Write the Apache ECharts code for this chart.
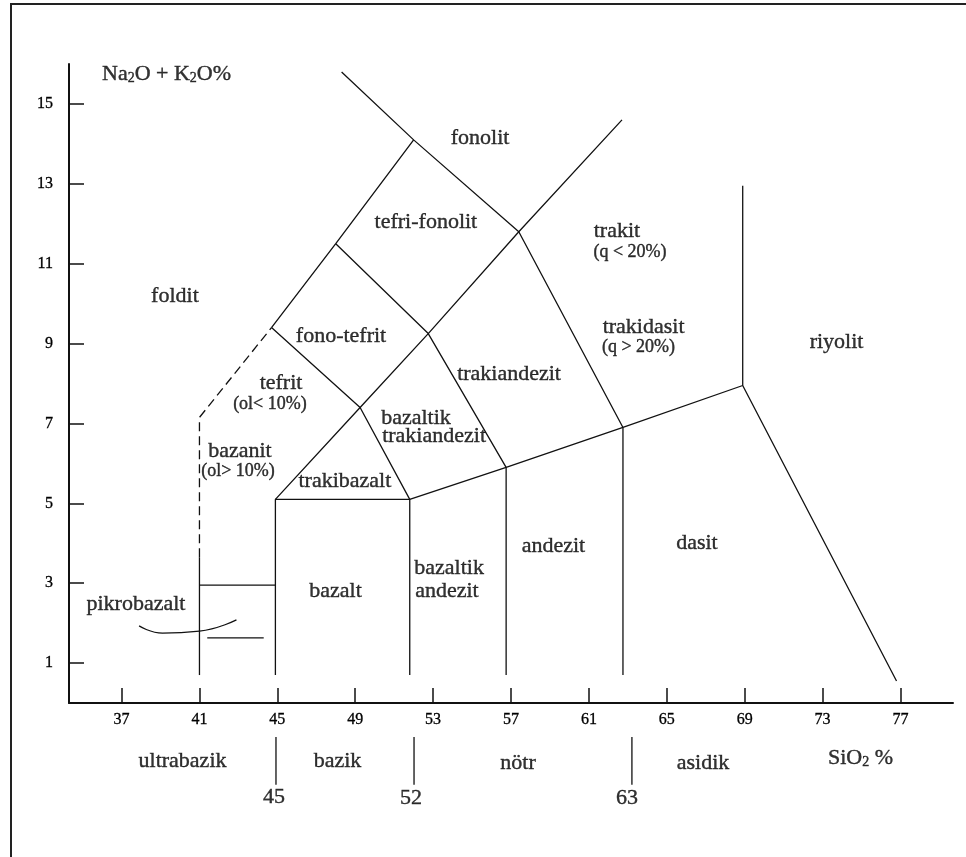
<!DOCTYPE html>
<html><head><meta charset="utf-8">
<script src="https://cdn.jsdelivr.net/npm/echarts@6/dist/echarts.min.js"></script>
<style>html,body{margin:0;padding:0;background:#fff}#c{width:966px;height:857px}</style>
</head><body><div id="c"></div>
<script>
// ---- data (SiO2 %, Na2O+K2O %) ----
const xTicks = [37, 41, 45, 49, 53, 57, 61, 65, 69, 73, 77];
const yTicks = [1, 3, 5, 7, 9, 11, 13, 15];

const solidLines = [
  [[48.3, 15.8], [52.0, 14.1], [57.4, 11.8], [62.75, 6.9]],
  [[44.7, 9.4], [48.0, 11.5], [52.0, 14.1]],
  [[44.9, 5.1], [49.25, 7.4], [52.75, 9.25], [57.4, 11.8], [62.7, 14.6]],
  [[44.7, 9.4], [49.25, 7.4], [51.8, 5.1]],
  [[48.0, 11.5], [52.75, 9.25], [56.75, 5.9]],
  [[51.8, 5.1], [56.75, 5.9], [62.75, 6.9], [68.9, 7.95], [76.8, 0.55]],
  [[68.9, 7.95], [68.9, 12.95]],
  [[41.0, 0.7], [41.0, 3.65]],
  [[44.9, 0.7], [44.9, 5.1], [51.8, 5.1], [51.8, 0.7]],
  [[56.75, 0.7], [56.75, 5.9]],
  [[62.75, 0.7], [62.75, 6.9]],
  [[41.0, 2.95], [44.9, 2.95]],
  [[41.4, 1.63], [44.3, 1.63]]
];
const dashedLines = [
  [[41.0, 3.65], [41.0, 7.15], [44.7, 9.4]]
];
const picroCurve = [[37.9, 1.93], [39.1, 1.75], [41.0, 1.80], [42.9, 2.08]];
const classDividers = [
  [[44.93, -0.85], [44.93, -2.05]],
  [[52.02, -0.85], [52.02, -2.05]],
  [[63.21, -0.85], [63.21, -2.05]]
];

const rockNames = [
  ['foldit', 39.74, 10.22], ['fonolit', 55.41, 14.17], ['tefri-fonolit', 52.63, 12.07],
  ['fono-tefrit', 48.27, 9.21], ['tefrit', 45.19, 8.04], ['bazanit', 43.08, 6.33],
  ['trakibazalt', 48.47, 5.58], ['bazaltik', 52.12, 7.16], ['trakiandezit', 53.05, 6.71],
  ['trakiandezit', 56.90, 8.26], ['bazalt', 47.99, 2.83], ['pikrobazalt', 37.74, 2.50],
  ['bazaltik', 53.82, 3.41], ['andezit', 53.71, 2.83], ['andezit', 59.18, 3.96],
  ['dasit', 66.55, 4.03], ['trakit', 62.44, 11.84], ['trakidasit', 63.81, 9.44],
  ['riyolit', 73.72, 9.06]
];
const rockNotes = [
  ['(ol< 10%)', 44.62, 7.51], ['(ol> 10%)', 42.98, 5.83],
  ['(q < 20%)', 63.11, 11.32], ['(q > 20%)', 63.55, 8.94]
];
const classNames = [
  ['ultrabazik', 40.13, -1.43], ['bazik', 48.09, -1.43], ['nötr', 57.36, -1.48], ['asidik', 66.86, -1.48]
];
const classLimits = [['45', 44.83, -2.33], ['52', 51.86, -2.35], ['63', 62.96, -2.35]];
const axisTitles = [['Na₂O + K₂O%', 39.31, 15.77], ['SiO₂ %', 74.95, -1.35]];

// ---- rendering ----
const FONT = '"Liberation Serif", "Times New Roman", serif';
const INK = '#000';

function toRich(t) {
  return '{n|' + t.replace(/₂/g, '}{s|2}{n|') + '}';
}
function lineSeries(pts, dash, smooth) {
  return {
    type: 'line', data: pts, symbol: 'none', clip: false, silent: true, animation: false,
    smooth: smooth || false,
    lineStyle: { color: '#111', width: 1.3, type: dash ? [9, 5] : 'solid' }
  };
}
function textSeries(items, size) {
  const base = { fontFamily: FONT, color: INK, textBorderColor: INK, textBorderWidth: 0.4, verticalAlign: 'bottom' };
  return {
    type: 'scatter', symbolSize: 1, itemStyle: { color: 'transparent' }, clip: false,
    silent: true, animation: false,
    data: items.map(d => ({ name: d[0], value: [d[1], d[2]] })),
    label: {
      show: true, position: 'inside', align: 'center', verticalAlign: 'middle',
      formatter: p => toRich(p.name),
      rich: {
        n: Object.assign({}, base, { fontSize: size, lineHeight: size + 3 }),
        s: Object.assign({}, base, { fontSize: Math.round(size * 0.62), lineHeight: Math.round(size * 0.62) + 1 })
      }
    }
  };
}

const series = [];
solidLines.forEach(l => series.push(lineSeries(l, false)));
dashedLines.forEach(l => series.push(lineSeries(l, true)));
series.push(lineSeries(picroCurve, false, 0.5));
classDividers.forEach(l => series.push(lineSeries(l, false)));
series.push(textSeries(rockNames, 22));
series.push(textSeries(rockNotes, 18));
series.push(textSeries(classNames, 22));
series.push(textSeries(classLimits, 22));
series.push(textSeries(axisTitles, 22));

const chart = echarts.init(document.getElementById('c'), null, { renderer: 'canvas' });
chart.setOption({
  backgroundColor: '#fff',
  animation: false,
  grid: { left: 69, right: 13, top: 64, bottom: 154, containLabel: false, outerBoundsMode: 'none' },
  xAxis: {
    type: 'value', min: 34.3, max: 79.7,
    axisLine: { show: true, onZero: false, lineStyle: { color: '#111', width: 2 } },
    axisTick: { show: true, inside: true, length: 15, customValues: xTicks, lineStyle: { color: '#111', width: 1.5 } },
    axisLabel: { show: true, customValues: xTicks, margin: 9, fontFamily: FONT, fontSize: 16, color: INK, textBorderColor: INK, textBorderWidth: 0.3 },
    splitLine: { show: false }
  },
  yAxis: {
    type: 'value', min: 0, max: 16,
    axisLine: { show: true, onZero: false, lineStyle: { color: '#111', width: 2 } },
    axisTick: { show: true, inside: true, length: 15, customValues: yTicks, lineStyle: { color: '#111', width: 1.5 } },
    axisLabel: { show: true, customValues: yTicks, margin: 16, fontFamily: FONT, fontSize: 16, color: INK, textBorderColor: INK, textBorderWidth: 0.3 },
    splitLine: { show: false }
  },
  graphic: [{
    type: 'rect', silent: true,
    shape: { x: 11, y: 4, width: 1000, height: 900 },
    style: { fill: 'none', stroke: '#222', lineWidth: 2 }
  }],
  series: series
});
</script>
</body></html>
